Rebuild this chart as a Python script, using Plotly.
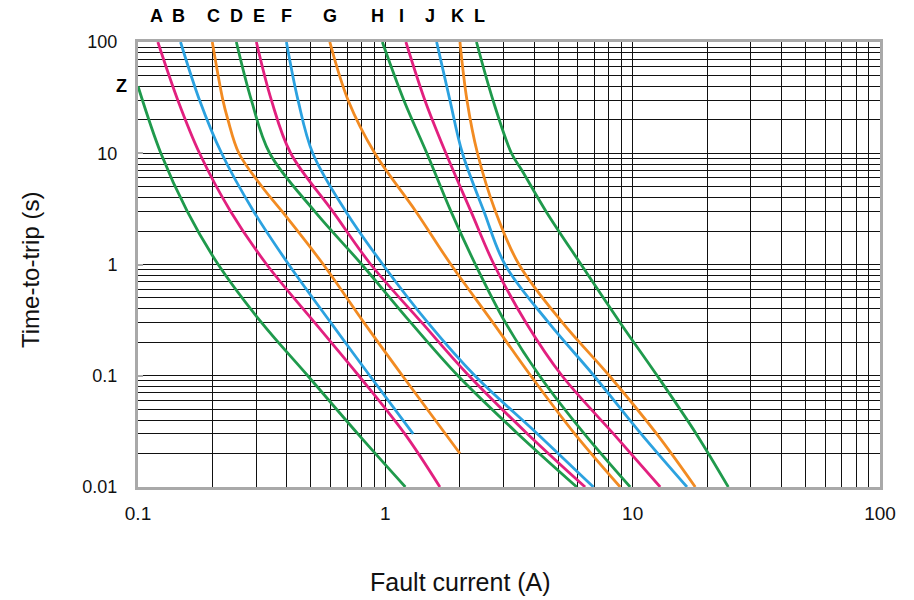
import plotly.graph_objects as go
import math

# Fault current (A) and time-to-trip (s) along each curve
names = ["Z", "A", "B", "C", "D", "E", "F", "G", "H", "I", "J", "K", "L"]

Z_i = [0.1, 0.1237, 0.1582, 0.2110, 0.3160, 0.4857, 0.7746, 1.205]
Z_t = [40, 10, 3, 1, 0.3, 0.1, 0.03, 0.01]

A_i = [0.1203, 0.1449, 0.1774, 0.2369, 0.3314, 0.5182, 0.7811, 1.199, 1.662]
A_t = [100, 30, 10, 3, 1, 0.3, 0.1, 0.03, 0.01]

B_i = [0.1486, 0.1774, 0.2178, 0.2936, 0.4068, 0.6018, 0.8655, 1.296]
B_t = [100, 30, 10, 3, 1, 0.3, 0.1, 0.03]

C_i = [0.1997, 0.2204, 0.2310, 0.2559, 0.3172, 0.3824, 0.5616, 0.8199, 1.173, 2.003]
C_t = [100, 30, 20, 10, 5, 3, 1, 0.3, 0.1, 0.02]

D_i = [0.2498, 0.2873, 0.3408, 0.5182, 0.8033, 1.268, 1.966, 3.439, 5.944]
D_t = [100, 30, 10, 3, 1, 0.3, 0.1, 0.03, 0.01]

E_i = [0.3010, 0.3462, 0.4144, 0.6130, 0.8737, 1.405, 2.178, 3.758, 6.423]
E_t = [100, 30, 10, 3, 1, 0.3, 0.1, 0.03, 0.01]

F_i = [0.3981, 0.4436, 0.5088, 0.6920, 0.9770, 1.486, 2.303, 4.125, 6.939]
F_t = [100, 30, 10, 3, 1, 0.3, 0.1, 0.03, 0.01]

G_i = [0.5963, 0.7071, 0.9070, 1.329, 1.842, 2.724, 3.872, 5.834, 8.900]
G_t = [100, 30, 10, 3, 1, 0.3, 0.1, 0.03, 0.01]

H_i = [0.9725, 1.188, 1.472, 1.842, 2.314, 3.060, 4.202, 6.381, 9.770]
H_t = [100, 30, 10, 3, 1, 0.3, 0.1, 0.03, 0.01]

I_i = [1.211, 1.445, 1.758, 2.219, 2.750, 3.705, 5.182, 8.368, 12.92]
I_t = [100, 30, 10, 3, 1, 0.3, 0.1, 0.03, 0.01]

J_i = [1.612, 1.824, 2.050, 2.505, 3.046, 4.574, 6.977, 10.82, 16.58]
J_t = [100, 30, 10, 3, 1, 0.3, 0.1, 0.03, 0.01]

K_i = [2.003, 2.138, 2.358, 2.788, 3.471, 5.202, 8.047, 12.51, 17.91]
K_t = [100, 30, 10, 3, 1, 0.3, 0.1, 0.03, 0.01]

L_i = [2.336, 2.724, 3.236, 3.569, 4.465, 6.187, 8.900, 12.57, 18.08, 24.36]
L_t = [100, 30, 10, 7, 3, 1, 0.3, 0.1, 0.03, 0.01]

x_ticks = [0.1, 1, 10, 100]
x_tick_labels = ["0.1", "1", "10", "100"]
y_ticks = [0.01, 0.1, 1, 10, 100]
y_tick_labels = ["0.01", "0.1", "1", "10", "100"]

series = {
    "Z": (Z_i, Z_t), "A": (A_i, A_t), "B": (B_i, B_t), "C": (C_i, C_t),
    "D": (D_i, D_t), "E": (E_i, E_t), "F": (F_i, F_t), "G": (G_i, G_t),
    "H": (H_i, H_t), "I": (I_i, I_t), "J": (J_i, J_t), "K": (K_i, K_t),
    "L": (L_i, L_t),
}

GREEN = "#1f9a4c"
PINK = "#e2207f"
BLUE = "#2ca2e0"
ORANGE = "#f28b22"
colors = {"Z": GREEN, "A": PINK, "B": BLUE, "C": ORANGE, "D": GREEN, "E": PINK,
          "F": BLUE, "G": ORANGE, "H": GREEN, "I": PINK, "J": BLUE, "K": ORANGE, "L": GREEN}

# small horizontal nudges (px) of the curve letters relative to each curve's top end
letter_shift = {"A": -1, "B": -2, "C": 1, "D": 0, "E": 3, "F": 0, "G": 0,
                "H": -5, "I": -4, "J": -7, "K": -2, "L": 3}

FONT = "Liberation Sans, Arial, sans-serif"

fig = go.Figure()
for n in names:
    xi, ti = series[n]
    fig.add_trace(go.Scatter(x=xi, y=ti, mode="lines", name=n,
                             line=dict(color=colors[n], width=2.8, shape="spline", smoothing=1.0),
                             showlegend=False, hoverinfo="skip"))


def minor_vals(lo, hi):
    vals = []
    for e in range(lo, hi):
        for m in range(2, 10):
            vals.append(m * 10 ** e)
    return vals


axis_common = dict(
    type="log", showgrid=True, gridcolor="#111111", gridwidth=1.2,
    showline=True, linecolor="#a9a9a9", linewidth=3, mirror=True,
    zeroline=False, tickmode="array",
)

fig.update_xaxes(**axis_common, range=[-1, 2], tickvals=x_ticks, ticktext=x_tick_labels,
                 ticks="", ticklabelstandoff=7,
                 tickfont=dict(family=FONT, size=19, color="#111"),
                 minor=dict(tickmode="array", tickvals=minor_vals(-1, 2), showgrid=True,
                            gridcolor="#111111", gridwidth=1.2, ticks=""))
fig.update_yaxes(**axis_common, range=[-2, 2], tickvals=y_ticks, ticktext=y_tick_labels,
                 ticks="inside", ticklen=5, tickwidth=2, tickcolor="#a9a9a9", ticklabelstandoff=14,
                 tickfont=dict(family=FONT, size=18, color="#111"),
                 minor=dict(tickmode="array", tickvals=minor_vals(-2, 2), showgrid=True,
                            gridcolor="#111111", gridwidth=1.2, ticks=""))

annotations = []
for n in names[1:]:
    xi, ti = series[n]
    annotations.append(dict(x=math.log10(xi[0]), y=1 + 26 / 445, xref="x", yref="paper",
                            text="<b>%s</b>" % n, showarrow=False, xshift=letter_shift[n],
                            font=dict(family=FONT, size=18, color="#000"),
                            xanchor="center", yanchor="middle"))
annotations.append(dict(x=-0.012, y=math.log10(Z_t[0]), xref="paper", yref="y",
                        text="<b>Z</b>", showarrow=False,
                        font=dict(family=FONT, size=18, color="#000"),
                        xanchor="right", yanchor="middle"))
annotations.append(dict(x=(460 - 138) / 742, y=-(582 - 487) / 445, xref="paper", yref="paper",
                        text="Fault current (A)", showarrow=False,
                        font=dict(family=FONT, size=25, color="#111"),
                        xanchor="center", yanchor="middle"))
annotations.append(dict(x=-(138 - 30) / 742, y=0.5 - (270 - 264.5) / 445, xref="paper", yref="paper",
                        text="Time-to-trip (s)", showarrow=False, textangle=-90,
                        font=dict(family=FONT, size=24, color="#111"),
                        xanchor="center", yanchor="middle"))

fig.update_layout(
    width=914, height=600,
    margin=dict(l=138, r=34, t=42, b=113),
    paper_bgcolor="white", plot_bgcolor="white",
    annotations=annotations,
)

# remove the default 8px page margin so the figure fills the 914x600 window exactly
fig.write_html("out.html", config={"displayModeBar": False},
               post_script="document.body.style.margin='0px';")
